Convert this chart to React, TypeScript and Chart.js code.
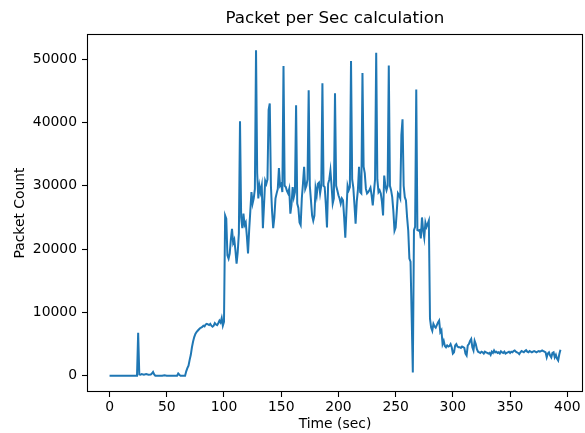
import React, { useEffect, useRef } from "react";
import { Chart, registerables } from "chart.js";

Chart.register(...registerables);

const chartTitle = "Packet per Sec calculation";
const xAxisLabel = "Time (sec)";
const yAxisLabel = "Packet Count";
const xTickValues = [0, 50, 100, 150, 200, 250, 300, 350, 400];
const yTickValues = [0, 10000, 20000, 30000, 40000, 50000];

const timeSec = [
  0, 23, 24, 25, 26, 27, 28, 30, 32, 34, 36, 37, 38, 39, 40, 46, 48, 50, 59, 60, 61, 62, 66,
  67, 68, 69, 70, 71, 72, 73, 74, 75, 76, 77, 78, 79, 80, 81, 82, 83, 84, 85, 86, 87, 88, 89,
  90, 91, 92, 93, 94, 95, 96, 97, 98, 99, 100,
  101, 102, 103, 104, 105, 106, 107, 108, 109, 110, 111, 112, 113, 114, 115, 116, 117, 118, 119, 120,
  121, 122, 123, 124, 125, 126, 127, 128, 129, 130, 131, 132, 133, 134, 135, 136, 137, 138, 139, 140,
  141, 142, 143, 144, 145, 146, 147, 148, 149, 150, 151, 152, 153, 154, 155, 156, 157, 158, 159, 160,
  161, 162, 163, 164, 165, 166, 167, 168, 169, 170, 171, 172, 173, 174, 175, 176, 177, 178, 179, 180,
  181, 182, 183, 184, 185, 186, 187, 188, 189, 190, 191, 192, 193, 194, 195, 196, 197, 198, 199, 200,
  201, 202, 203, 204, 205, 206, 207, 208, 209, 210, 211, 212, 213, 214, 215, 216, 217, 218, 219, 220,
  221, 222, 223, 224, 225, 226, 227, 228, 229, 230, 231, 232, 233, 234, 235, 236, 237, 238, 239, 240,
  241, 242, 243, 244, 245, 246, 247, 248, 249, 250, 251, 252, 253, 254, 255, 256, 257, 258, 259, 260,
  261, 262, 263, 265, 266, 267, 268, 269, 270, 271, 272, 273, 274, 275, 276, 277, 278, 279, 280,
  281, 282, 283, 284, 285, 286, 287, 288, 289, 290, 291, 292, 293, 294, 295, 296, 297, 298, 299, 300,
  301, 302, 303, 304, 305, 306, 307, 308, 309, 310, 311, 312, 313, 314, 315, 316, 317, 318, 319, 320,
  321, 322, 323, 324, 325, 326, 327, 328, 329, 330, 331, 332, 333, 334, 335, 336, 337, 338, 339, 340,
  341, 342, 343, 344, 345, 346, 347, 348, 349, 350, 351, 352, 353, 354, 355, 356, 357, 358, 359, 360,
  361, 362, 363, 364, 365, 366, 367, 368, 369, 370, 371, 372, 373, 374, 375, 376, 377, 378, 379, 380,
  381, 382, 383, 384, 385, 386, 387, 388, 389, 390, 391, 392, 393, 394,
];

const packetCount = [
  0, 0, 0, 6800, 200, 150, 250, 150, 250, 150, 200, 350, 600, 200, 0, 0, 80, 0, 0, 350, 150, 0, 0,
  700, 1200, 1600, 2500, 3300, 4500, 5400, 6100, 6600, 6900, 7100, 7300, 7500, 7600, 7700, 7900, 7800, 8100, 8200, 8100, 8000, 8200, 7900,
  7750, 7900, 8300, 8100, 8000, 8300, 8700, 8400, 9100, 7900, 8500,
  25300, 24800, 19000, 18500, 19300, 21500, 23200, 21000, 21500, 19800, 17700, 19500, 22500, 40200, 25000, 23300, 25600, 23800, 24200, 22000,
  19300, 23000, 26000, 29000, 27200, 28000, 29500, 51400, 32000, 28000, 30000, 29000, 30000, 23300, 27000, 30800, 30300, 31000, 42000, 43000,
  30000, 26000, 23300, 25000, 28000, 28800, 29500, 32800, 30000, 30300, 29000, 48900, 30000, 29800, 29200, 28800, 29500, 25600, 27000, 29800,
  28200, 29000, 42700, 27200, 26500, 24200, 23800, 28000, 30300, 33000, 29500, 30000, 31000, 45100, 30000, 27700, 25300, 24500, 25300, 29600,
  28500, 30300, 30500, 28800, 30000, 46200, 30000, 29800, 27000, 23400, 30300, 31000, 32400, 30000, 27200, 28000, 44600, 30000, 29300, 28500,
  28000, 27200, 28000, 27700, 25000, 21800, 26000, 30000, 29300, 29800, 49700, 31000, 29700, 27000, 24000, 27500, 29300, 33000, 29000, 28800,
  47800, 33000, 32000, 29500, 28800, 29000, 29300, 29700, 28500, 26900, 29000, 31000, 51000, 31000, 29000, 29300, 28800, 27500, 25300, 31600,
  30000, 29300, 30000, 49000, 30000, 29300, 28200, 26000, 22900, 23400, 26000, 28800, 28500, 28000, 38000, 40500, 30000, 28200, 27700, 25000,
  22900, 18500, 18000, 500, 23000, 23500, 45200, 23000, 22900, 23000, 21700, 25000, 23000, 21800, 24200, 23500, 24000, 24500, 9000,
  7600, 7100, 8200, 7800, 7600, 8000, 8400, 8700, 6900, 7200, 5000, 5500, 4700, 4500, 4800, 4600, 4700, 5000, 4500, 3500,
  3700, 4800, 5000, 4600, 4500, 4500, 4400, 4600, 4500, 4400, 3500, 3200, 4800, 5000, 5500, 5800, 4500, 4000, 5500, 5000,
  4200, 3800, 3700, 3600, 3800, 3700, 3500, 3800, 3700, 3600, 3500, 3600, 3300, 3800, 3600, 4000, 3700, 3800, 3600, 3700,
  3500, 3850, 3700, 3600, 3800, 3500, 3600, 3700, 3800, 3600, 3800, 3700, 3900, 4000, 3800, 3700, 3600, 3400, 3700, 3900,
  3800, 3700, 3900, 4050, 3800, 3700, 3900, 3800, 3700, 3800, 3900, 3800, 3700, 3800, 3900, 3800, 3900, 4000, 3900, 3800,
  3700, 2900, 3500, 3700, 3200, 2900, 3600, 3700, 2900, 3300, 2700, 2400, 3400, 4100,
];

const FONT = "'DejaVu Sans', sans-serif";

const framePlugin = {
  id: "frame",
  afterDraw(chart: any) {
    const { ctx, chartArea } = chart;
    const l = Math.round(chartArea.left) + 0.5;
    const t = Math.round(chartArea.top) + 0.5;
    const r = Math.round(chartArea.right) - 0.5;
    const b = Math.round(chartArea.bottom) - 0.5;
    ctx.save();
    ctx.strokeStyle = "#000";
    ctx.lineWidth = 1.1;
    ctx.strokeRect(l, t, r - l, b - t);
    ctx.fillStyle = "#000";
    ctx.font = `normal 16.7px ${FONT}`;
    ctx.textAlign = "center";
    ctx.textBaseline = "middle";
    ctx.fillText(chartTitle, (chartArea.left + chartArea.right) / 2, 19);
    ctx.restore();
  },
};

export default function App() {
  const ref = useRef<HTMLCanvasElement | null>(null);

  useEffect(() => {
    document.body.style.margin = "0";
    const canvas = ref.current;
    if (!canvas) return;

    const xLo = Math.min(...timeSec);
    const xHi = Math.max(...timeSec);
    const yLo = Math.min(...packetCount);
    const yHi = Math.max(...packetCount);
    const xPad = (xHi - xLo) * 0.05;
    const yPad = (yHi - yLo) * 0.05;

    const points = timeSec.map((t, i) => ({ x: t, y: packetCount[i] }));

    const chart = new Chart(canvas, {
      type: "line",
      data: {
        datasets: [
          {
            data: points,
            borderColor: "#1f77b4",
            borderWidth: 2,
            pointRadius: 0,
            tension: 0,
            fill: false,
          },
        ],
      },
      plugins: [framePlugin],
      options: {
        animation: false,
        responsive: false,
        devicePixelRatio: 1,
        layout: { padding: { left: 0, right: 2, top: 34, bottom: 0 } },
        plugins: {
          legend: { display: false },
          tooltip: { enabled: false },
          title: { display: false },
        },
        scales: {
          x: {
            type: "linear",
            min: xLo - xPad,
            max: xHi + xPad,
            afterBuildTicks: (scale: any) => {
              scale.ticks = xTickValues.map((v) => ({ value: v }));
            },
            afterFit: (scale: any) => {
              scale.height = 41;
            },
            ticks: {
              autoSkip: false,
              maxRotation: 0,
              color: "#000",
              padding: 2,
              font: { family: FONT, size: 13.9 },
              callback: (v: any) => String(v),
            },
            grid: {
              drawOnChartArea: false,
              drawTicks: true,
              tickLength: 5,
              tickColor: "#000",
              tickWidth: 1.1,
            },
            border: { display: false },
            title: {
              display: true,
              text: xAxisLabel,
              color: "#000",
              font: { family: FONT, size: 13.9 },
              padding: { top: 0, bottom: 0 },
            },
          },
          y: {
            type: "linear",
            min: yLo - yPad,
            max: yHi + yPad,
            afterBuildTicks: (scale: any) => {
              scale.ticks = yTickValues.map((v) => ({ value: v }));
            },
            afterFit: (scale: any) => {
              scale.width = 87;
            },
            ticks: {
              autoSkip: false,
              color: "#000",
              padding: 5,
              font: { family: FONT, size: 13.9 },
              callback: (v: any) => String(v),
            },
            grid: {
              drawOnChartArea: false,
              drawTicks: true,
              tickLength: 5,
              tickColor: "#000",
              tickWidth: 1.1,
            },
            border: { display: false },
            title: {
              display: true,
              text: yAxisLabel,
              color: "#000",
              font: { family: FONT, size: 13.9 },
              padding: { top: 12, bottom: 0 },
            },
          },
        },
      },
    } as any);

    return () => chart.destroy();
  }, []);

  return (
    <div style={{ width: 585, height: 433 }}>
      <canvas ref={ref} width={585} height={433} style={{ display: "block" }} />
    </div>
  );
}
